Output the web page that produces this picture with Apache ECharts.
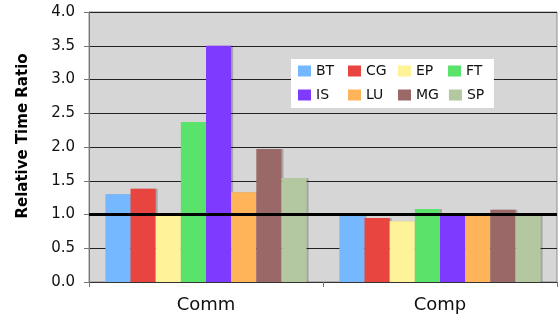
<!DOCTYPE html>
<html>
<head>
<meta charset="utf-8">
<script src="https://cdn.jsdelivr.net/npm/echarts@6/dist/echarts.min.js"></script>
<style>
  html, body { margin: 0; padding: 0; background: #fff; }
  #chart { width: 559px; height: 322px; }
</style>
</head>
<body>
<div id="chart"></div>
<script>
// Benchmark groups and per-benchmark relative time ratios
const categories = ['Comm', 'Comp'];
const seriesNames = ['BT', 'CG', 'EP', 'FT', 'IS', 'LU', 'MG', 'SP'];
const BT = [1.30, 0.99];
const CG = [1.38, 0.95];
const EP = [0.98, 0.90];
const FT = [2.37, 1.08];
const IS = [3.50, 1.00];
const LU = [1.33, 1.00];
const MG = [1.97, 1.07];
const SP = [1.54, 0.99];
const yTicks = { min: 0, max: 4, interval: 0.5 };
const baseline = 1.0;
const yTitle = 'Relative Time Ratio';

const values = { BT, CG, EP, FT, IS, LU, MG, SP };
const colors = ['#75b8ff', '#e84541', '#fff399', '#5ae36b', '#7f3aff', '#ffb45a', '#9b6868', '#b3c7a0'];

const font = 'DejaVu Sans, Verdana, sans-serif';

const series = seriesNames.map((name, i) => ({
  name,
  type: 'bar',
  data: values[name],
  barGap: '0%',
  barCategoryGap: '14%',
  itemStyle: {
    color: colors[i],
    shadowColor: 'rgba(0,0,0,0.22)',
    shadowOffsetX: 2,
    shadowOffsetY: 0,
    shadowBlur: 0
  },
  z: 2
}));

// reference ratio line
series[0].markLine = {
  symbol: 'none',
  silent: true,
  label: { show: false },
  lineStyle: { color: '#000', width: 3, type: 'solid' },
  data: [{ yAxis: baseline }],
  z: 5
};

const chart = echarts.init(document.getElementById('chart'), null, { renderer: 'canvas' });
chart.setOption({
  animation: false,
  backgroundColor: '#fff',
  grid: {
    left: 89, right: 2, top: 12, bottom: 40,
    show: true,
    backgroundColor: '#d6d6d6',
    borderColor: '#8c8c8c',
    borderWidth: 1
  },
  graphic: [{
    type: 'text',
    x: 23, y: 136,
    rotation: Math.PI / 2,
    style: {
      text: yTitle,
      font: 'bold 15px ' + font,
      fill: '#000',
      align: 'center',
      verticalAlign: 'middle'
    }
  }],
  legend: {
    data: seriesNames,
    left: 291, top: 59,
    width: 195,
    itemWidth: 13, itemHeight: 11,
    itemGap: 10,
    padding: [5, 5, 6, 7],
    backgroundColor: '#fff',
    icon: 'rect',
    textStyle: { fontFamily: font, fontSize: 14, color: '#111', width: 22, lineHeight: 13 }
  },
  xAxis: {
    type: 'category',
    data: categories,
    axisLine: { lineStyle: { color: '#333', width: 1 } },
    axisTick: { show: true, length: 5, lineStyle: { color: '#777' } },
    axisLabel: { fontFamily: font, fontSize: 18, color: '#111', margin: 14 }
  },
  yAxis: {
    type: 'value',
    min: yTicks.min, max: yTicks.max, interval: yTicks.interval,
    axisLine: { show: true, lineStyle: { color: '#777', width: 1 } },
    axisTick: { show: true, length: 5, lineStyle: { color: '#777' } },
    axisLabel: {
      fontFamily: font, fontSize: 15, color: '#111', margin: 14,
      formatter: v => v.toFixed(1)
    },
    splitLine: { show: true, lineStyle: { color: '#222', width: 1 } }
  },
  series
});
</script>
</body>
</html>
